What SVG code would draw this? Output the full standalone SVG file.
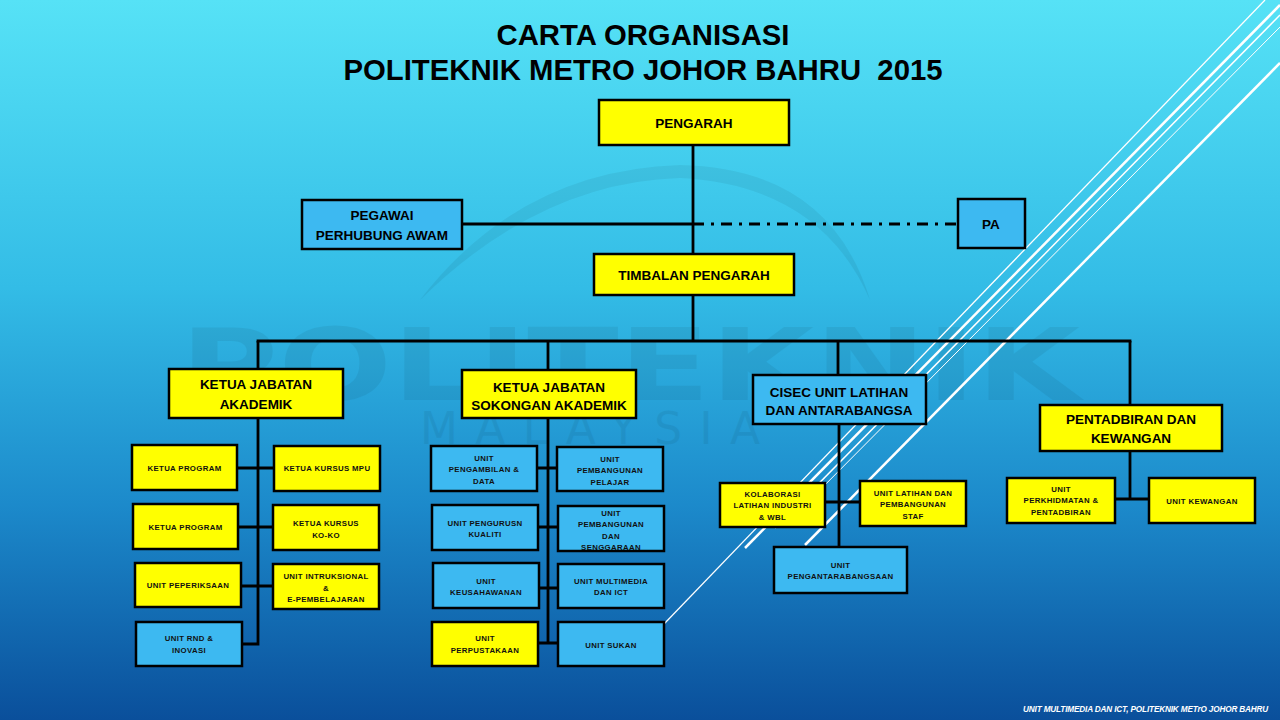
<svg xmlns="http://www.w3.org/2000/svg" width="1280" height="720" viewBox="0 0 1280 720">
<defs>
<linearGradient id="bg" x1="0" y1="0" x2="0" y2="1">
<stop offset="0" stop-color="#56E2F6"/>
<stop offset="0.4" stop-color="#33BCE6"/>
<stop offset="0.7" stop-color="#1C8ACB"/>
<stop offset="1" stop-color="#0A4F9B"/>
</linearGradient>
<style>
.box{stroke:#000;stroke-width:2.5}
.y{fill:#FFFF00}
.b{fill:#3DB9F1}
.big{font-family:"Liberation Sans",Arial,sans-serif;font-weight:bold;font-size:13.5px;fill:#000;text-anchor:middle}
.sm{font-family:"Liberation Sans",Arial,sans-serif;font-weight:bold;font-size:7.8px;letter-spacing:0.35px;fill:#111;text-anchor:middle}
.ttl{font-family:"Liberation Sans",Arial,sans-serif;font-weight:bold;font-size:29.3px;fill:#000;text-anchor:middle}
.ln{stroke:#000;stroke-width:2.8;fill:none}
.deco{stroke:#fff;fill:none}
</style>
</defs>
<rect x="0" y="0" width="1280" height="720" fill="url(#bg)"/>
<g id="watermark" opacity="0.055">
<path d="M420,300 Q520,170 680,165 Q830,168 870,300 Q820,185 680,178 Q540,182 420,300 Z" fill="#000"/>
<text x="630" y="400" font-family="DejaVu Sans, sans-serif" font-weight="bold" font-size="100" text-anchor="middle" textLength="900" lengthAdjust="spacingAndGlyphs" fill="#000">POLITEKNIK</text>
<text x="590" y="444" font-family="DejaVu Sans, sans-serif" font-size="44" text-anchor="middle" textLength="340" lengthAdjust="spacing" fill="#000">MALAYSIA</text>
</g>
<g id="deco-lines" class="deco">
<line x1="1265" y1="0" x2="664" y2="624" stroke-width="1.3"/>
<line x1="1280" y1="5" x2="745" y2="548" stroke-width="2.5"/>
<line x1="1280" y1="15" x2="775" y2="528" stroke-width="1.5"/>
<line x1="1280" y1="27" x2="800" y2="510" stroke-width="1"/>
<line x1="1280" y1="63" x2="805" y2="545" stroke-width="2.5"/>
</g>
<g id="title">
<text class="ttl" x="643" y="45">CARTA ORGANISASI</text>
<text class="ttl" x="643" y="80" xml:space="preserve">POLITEKNIK METRO JOHOR BAHRU  2015</text>
</g>
<g id="connectors">
<path class="ln" d="M693,145 V254"/>
<path class="ln" d="M462,224 H693"/>
<path class="ln" d="M693,224 H958" stroke-width="3.2" stroke-dasharray="11 7 3 7"/>
<path class="ln" d="M693,295 V341"/>
<path class="ln" d="M256.6,341 H1131.4"/>
<path class="ln" d="M258,341 V369 M548,341 V370 M838,341 V375 M1130,341 V405"/>
<path class="ln" d="M258,418 V645.4 M237,468 H274 M238,527 H273 M241,586 H273 M242,644 H258"/>
<path class="ln" d="M548,418 V644.4 M537,468 H557 M538,527 H558 M539,588 H558 M538,643 H558"/>
<path class="ln" d="M839,424 V547 M825,502 H860"/>
<path class="ln" d="M1130,451 V500.4 M1115,499 H1149"/>
</g>
<g id="pengarah"><rect class="box y" x="599" y="100" width="190" height="45"/><text class="big" x="694" y="128">PENGARAH</text></g>
<g id="pegawai"><rect class="box b" x="302" y="200" width="160" height="49"/><text class="big" x="382" y="220">PEGAWAI</text><text class="big" x="382" y="240">PERHUBUNG AWAM</text></g>
<g id="pa"><rect class="box b" x="958" y="199" width="67" height="49"/><text class="big" x="991" y="229">PA</text></g>
<g id="timbalan"><rect class="box y" x="594" y="254" width="200" height="41"/><text class="big" x="694" y="280">TIMBALAN PENGARAH</text></g>
<g id="kja"><rect class="box y" x="169" y="369" width="174" height="49"/><text class="big" x="256" y="389">KETUA JABATAN</text><text class="big" x="256" y="409">AKADEMIK</text></g>
<g id="kjsa"><rect class="box y" x="462" y="370" width="174" height="48"/><text class="big" x="549" y="392" font-size="13">KETUA JABATAN</text><text class="big" x="549" y="410" font-size="13">SOKONGAN AKADEMIK</text></g>
<g id="cisec"><rect class="box b" x="753" y="375" width="173" height="49"/><text class="big" x="839" y="397">CISEC UNIT LATIHAN</text><text class="big" x="839" y="415">DAN ANTARABANGSA</text></g>
<g id="pentadbiran"><rect class="box y" x="1040" y="405" width="182" height="46"/><text class="big" x="1131" y="424" font-size="14.5">PENTADBIRAN DAN</text><text class="big" x="1131" y="443" font-size="14.5">KEWANGAN</text></g>
<g id="ketua-program-1"><rect class="box y" x="132" y="445" width="105" height="45"/><text class="sm" x="184.5" y="471">KETUA PROGRAM</text></g>
<g id="ketua-program-2"><rect class="box y" x="133" y="504" width="105" height="45"/><text class="sm" x="185.5" y="530">KETUA PROGRAM</text></g>
<g id="peperiksaan"><rect class="box y" x="135" y="563" width="106" height="44"/><text class="sm" x="188" y="588">UNIT PEPERIKSAAN</text></g>
<g id="rnd"><rect class="box b" x="136" y="622" width="106" height="44"/><text class="sm" x="189" y="641">UNIT RND &amp;</text><text class="sm" x="189" y="653">INOVASI</text></g>
<g id="kursus-mpu"><rect class="box y" x="274" y="446" width="106" height="45"/><text class="sm" x="327" y="471">KETUA KURSUS MPU</text></g>
<g id="kursus-koko"><rect class="box y" x="273" y="505" width="106" height="45"/><text class="sm" x="326" y="526">KETUA KURSUS</text><text class="sm" x="326" y="538">KO-KO</text></g>
<g id="intruksional"><rect class="box y" x="273" y="564" width="106" height="45"/><text class="sm" x="326" y="579">UNIT INTRUKSIONAL</text><text class="sm" x="326" y="590.5">&amp;</text><text class="sm" x="326" y="602">E-PEMBELAJARAN</text></g>
<g id="pengambilan"><rect class="box b" x="431" y="446" width="106" height="45"/><text class="sm" x="484" y="461">UNIT</text><text class="sm" x="484" y="472">PENGAMBILAN &amp;</text><text class="sm" x="484" y="484">DATA</text></g>
<g id="kualiti"><rect class="box b" x="432" y="505" width="106" height="45"/><text class="sm" x="485" y="526">UNIT PENGURUSN</text><text class="sm" x="485" y="537">KUALITI</text></g>
<g id="keusahawanan"><rect class="box b" x="433" y="563" width="106" height="45"/><text class="sm" x="486" y="584">UNIT</text><text class="sm" x="486" y="595">KEUSAHAWANAN</text></g>
<g id="perpustakaan"><rect class="box y" x="432" y="622" width="106" height="44"/><text class="sm" x="485" y="641">UNIT</text><text class="sm" x="485" y="653">PERPUSTAKAAN</text></g>
<g id="pelajar"><rect class="box b" x="557" y="447" width="106" height="44"/><text class="sm" x="610" y="462">UNIT</text><text class="sm" x="610" y="473">PEMBANGUNAN</text><text class="sm" x="610" y="485">PELAJAR</text></g>
<g id="senggaraan"><rect class="box b" x="558" y="506" width="106" height="45"/><text class="sm" x="611" y="516">UNIT</text><text class="sm" x="611" y="527">PEMBANGUNAN</text><text class="sm" x="611" y="539">DAN</text><text class="sm" x="611" y="550">SENGGARAAN</text></g>
<g id="multimedia"><rect class="box b" x="558" y="564" width="106" height="44"/><text class="sm" x="611" y="584">UNIT MULTIMEDIA</text><text class="sm" x="611" y="595">DAN ICT</text></g>
<g id="sukan"><rect class="box b" x="558" y="622" width="106" height="44"/><text class="sm" x="611" y="648">UNIT SUKAN</text></g>
<g id="kolaborasi"><rect class="box y" x="720" y="483" width="105" height="44"/><text class="sm" x="772.5" y="497">KOLABORASI</text><text class="sm" x="772.5" y="508">LATIHAN INDUSTRI</text><text class="sm" x="772.5" y="520">&amp; WBL</text></g>
<g id="latihan-staf"><rect class="box y" x="860" y="481" width="106" height="45"/><text class="sm" x="913" y="496">UNIT LATIHAN DAN</text><text class="sm" x="913" y="507">PEMBANGUNAN</text><text class="sm" x="913" y="519">STAF</text></g>
<g id="pengantarabangsaan"><rect class="box b" x="774" y="547" width="133" height="46"/><text class="sm" x="840.5" y="568">UNIT</text><text class="sm" x="840.5" y="579">PENGANTARABANGSAAN</text></g>
<g id="perkhidmatan"><rect class="box y" x="1007" y="478" width="108" height="45"/><text class="sm" x="1061" y="492">UNIT</text><text class="sm" x="1061" y="503">PERKHIDMATAN &amp;</text><text class="sm" x="1061" y="515">PENTADBIRAN</text></g>
<g id="kewangan"><rect class="box y" x="1149" y="478" width="106" height="45"/><text class="sm" x="1202" y="504">UNIT KEWANGAN</text></g>
<g id="footer"><text x="1023" y="712" font-family="Liberation Sans, Arial, sans-serif" font-weight="bold" font-style="italic" font-size="8.2" letter-spacing="-0.15" fill="#fff">UNIT MULTIMEDIA DAN ICT, POLITEKNIK METrO JOHOR BAHRU</text></g>
</svg>
